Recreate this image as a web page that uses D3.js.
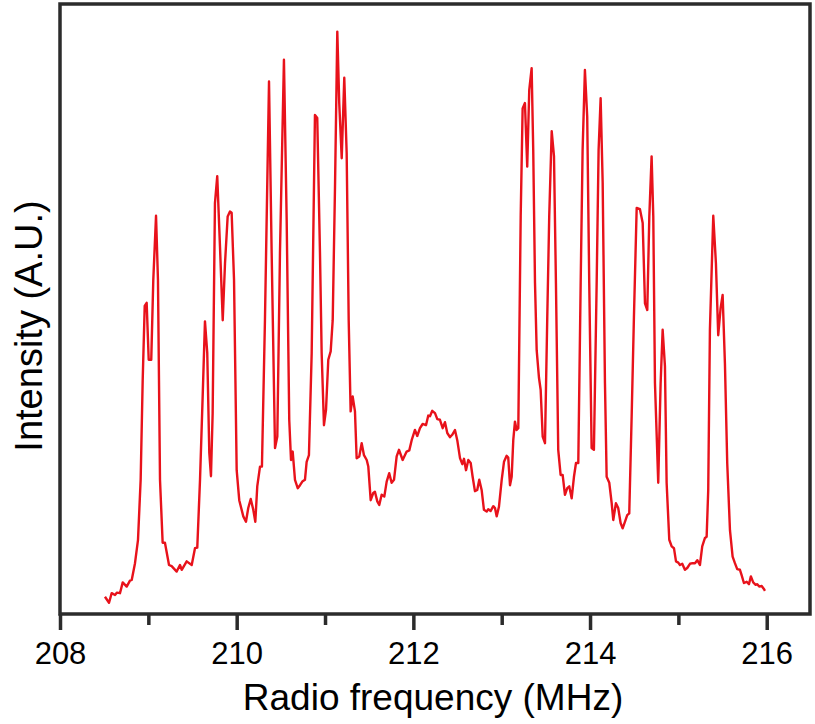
<!DOCTYPE html>
<html>
<head>
<meta charset="utf-8">
<script src="https://cdn.jsdelivr.net/npm/d3@7"></script>
<style>
  body { margin: 0; background: #fff; }
  svg text { font-family: "Liberation Sans", Arial, Helvetica, sans-serif; fill: #000; }
</style>
</head>
<body>
<div id="chart"></div>
<script>
/* global d3 */

// spectrum: frequency (MHz) and intensity (A.U.)
const freq = [
  208.509, 208.555, 208.585, 208.623, 208.645, 208.679, 208.710, 208.755, 208.792, 208.812,
  208.849, 208.883, 208.913, 208.936, 208.959, 208.981, 209.004, 209.033, 209.056, 209.087,
  209.109, 209.132, 209.162, 209.188, 209.234, 209.264, 209.321, 209.358, 209.378, 209.434,
  209.491, 209.528, 209.554, 209.585, 209.615, 209.641, 209.667, 209.690, 209.709, 209.728,
  209.754, 209.780, 209.811, 209.842, 209.868, 209.898, 209.924, 209.943, 209.970, 210.000,
  210.029, 210.075, 210.105, 210.131, 210.159, 210.188, 210.211, 210.233, 210.264, 210.286,
  210.320, 210.366, 210.396, 210.434, 210.460, 210.490, 210.535, 210.566, 210.595, 210.615,
  210.634, 210.660, 210.691, 210.717, 210.743, 210.773, 210.792, 210.818, 210.849, 210.886,
  210.912, 210.943, 210.962, 210.988, 211.011, 211.037, 211.064, 211.087, 211.113, 211.139,
  211.161, 211.189, 211.218, 211.245, 211.268, 211.290, 211.313, 211.339, 211.358, 211.388,
  211.415, 211.441, 211.472, 211.490, 211.517, 211.546, 211.565, 211.592, 211.614, 211.641,
  211.671, 211.698, 211.727, 211.754, 211.781, 211.811, 211.837, 211.879, 211.924, 211.954,
  211.981, 212.018, 212.044, 212.075, 212.105, 212.143, 212.169, 212.188, 212.214, 212.245,
  212.271, 212.301, 212.332, 212.358, 212.384, 212.414, 212.440, 212.471, 212.497, 212.528,
  212.554, 212.573, 212.596, 212.622, 212.649, 212.671, 212.697, 212.723, 212.746, 212.773,
  212.799, 212.830, 212.848, 212.875, 212.905, 212.924, 212.943, 212.969, 213.000, 213.026,
  213.056, 213.074, 213.094, 213.113, 213.131, 213.150, 213.169, 213.188, 213.215, 213.237,
  213.263, 213.289, 213.312, 213.339, 213.357, 213.377, 213.396, 213.422, 213.441, 213.464,
  213.490, 213.516, 213.538, 213.566, 213.592, 213.614, 213.640, 213.667, 213.690, 213.716,
  213.742, 213.765, 213.792, 213.818, 213.841, 213.867, 213.894, 213.916, 213.942, 213.968,
  213.991, 214.018, 214.044, 214.075, 214.097, 214.120, 214.143, 214.169, 214.188, 214.218,
  214.245, 214.263, 214.293, 214.319, 214.346, 214.369, 214.395, 214.421, 214.444, 214.471,
  214.497, 214.528, 214.565, 214.596, 214.622, 214.648, 214.671, 214.697, 214.716, 214.735,
  214.772, 214.799, 214.822, 214.848, 214.867, 214.897, 214.924, 214.950, 214.973, 214.999,
  215.018, 215.044, 215.074, 215.100, 215.131, 215.161, 215.188, 215.214, 215.244, 215.270,
  215.301, 215.320, 215.338, 215.357, 215.395, 215.425, 215.451, 215.478, 215.501, 215.527,
  215.553, 215.584, 215.614, 215.640, 215.666, 215.697, 215.716, 215.742, 215.773, 215.799,
  215.821, 215.847, 215.875, 215.893, 215.915, 215.943, 215.968, 215.980
]
const intensity = [
  2.7, 1.7, 3.3, 3.0, 3.4, 3.3, 5.1, 4.4, 5.4, 5.5,
  8.3, 12.2, 22.2, 38.8, 51.2, 51.7, 42.2, 42.2, 55.5, 66.2,
  55.5, 22.2, 11.7, 11.7, 8.0, 7.8, 6.9, 8.0, 7.2, 8.6,
  8.0, 10.8, 10.9, 22.2, 36.1, 48.6, 43.3, 26.7, 22.8, 33.3,
  68.3, 72.8, 61.1, 48.8, 58.3, 66.1, 66.9, 66.7, 55.5, 23.8,
  18.8, 16.1, 15.2, 17.5, 19.0, 17.2, 15.2, 21.1, 24.4, 24.4,
  48.8, 88.6, 60.0, 27.5, 29.4, 60.0, 92.2, 65.5, 32.2, 25.5,
  26.9, 22.2, 20.8, 21.3, 21.9, 22.2, 25.2, 26.3, 43.3, 83.0,
  82.5, 60.0, 43.3, 31.3, 33.8, 42.2, 43.6, 48.8, 71.0, 96.9,
  85.0, 75.8, 89.2, 76.7, 48.8, 33.6, 36.1, 33.6, 25.8, 26.1,
  28.3, 26.3, 25.5, 24.4, 18.8, 20.0, 20.2, 18.6, 18.0, 19.7,
  19.4, 21.9, 23.3, 21.7, 22.2, 26.1, 27.2, 25.5, 26.9, 27.1,
  28.8, 30.5, 29.5, 30.8, 31.5, 31.3, 32.9, 32.8, 33.7, 33.3,
  32.3, 32.2, 30.8, 31.8, 30.0, 29.3, 29.7, 30.5, 28.8, 25.8,
  24.8, 25.7, 23.8, 25.5, 25.0, 22.7, 20.3, 20.5, 22.2, 20.5,
  17.2, 16.9, 17.3, 17.0, 17.8, 17.5, 16.1, 17.7, 22.2, 25.2,
  26.2, 25.9, 21.3, 22.7, 28.8, 31.9, 30.5, 30.8, 66.1, 84.1,
  85.0, 74.4, 87.2, 90.8, 77.2, 55.0, 43.8, 39.2, 37.2, 29.4,
  28.3, 49.4, 66.1, 80.3, 76.1, 55.0, 27.2, 23.0, 23.0, 19.7,
  20.8, 21.1, 19.1, 22.7, 25.0, 25.0, 55.0, 77.2, 90.5, 82.7,
  55.0, 27.5, 27.2, 55.0, 77.2, 85.8, 71.7, 38.3, 22.7, 21.7,
  18.3, 15.5, 18.3, 17.5, 15.0, 14.1, 15.2, 16.3, 16.6, 32.7,
  49.4, 67.5, 67.3, 65.0, 51.6, 50.5, 66.1, 76.1, 66.1, 38.3,
  21.7, 38.3, 47.2, 41.1, 21.7, 12.2, 11.1, 10.8, 8.6, 8.4,
  8.0, 8.2, 7.2, 7.5, 8.2, 8.3, 8.3, 8.8, 8.0, 11.1,
  12.5, 12.7, 20.5, 47.2, 66.2, 58.3, 46.3, 50.8, 53.0, 41.6,
  25.0, 13.8, 9.4, 8.3, 7.3, 7.2, 6.3, 5.0, 5.2, 4.8,
  6.1, 5.1, 4.7, 4.8, 4.4, 4.5, 4.0, 3.7
]
const majorTicks = [208, 210, 212, 214, 216]
const minorTicks = [209, 211, 213, 215]

// canvas
const width = 815,
  height = 724
const plotLeft = 60, plotRight = 810, plotTop = 4, plotBottom = 614

let svg = d3.select('#chart')
  .append('svg')
  .attr('width', width)
  .attr('height', height)

const xScale = d3.scaleLinear()
  .domain([208, 216.49])
  .range([plotLeft, plotRight])

const yScale = d3.scaleLinear()
  .domain([-0.17, 101.5])
  .range([plotBottom, plotTop])

// the spectrum
const points = freq.map((f, i) => [f, intensity[i]])

svg.append('path')
  .datum(points)
  .attr('fill', 'none')
  .attr('stroke', '#e8121b')
  .attr('stroke-width', 2.4)
  .attr('stroke-linejoin', 'round')
  .attr('d', d3.line()
    .x(d => xScale(d[0]))
    .y(d => yScale(d[1])))

// minor ticks
svg.append('g')
  .attr('transform', `translate(0, ${plotBottom})`)
  .call(d3.axisBottom(xScale).tickValues(minorTicks).tickSize(11).tickFormat(''))
  .call(g => g.select('.domain').remove())
  .call(g => g.selectAll('line').attr('stroke', '#2b2b2b').attr('stroke-width', 3.5))

// major ticks with labels
svg.append('g')
  .attr('transform', `translate(0, ${plotBottom})`)
  .call(d3.axisBottom(xScale).tickValues(majorTicks).tickSize(16).tickPadding(12).tickFormat(d3.format('d')))
  .call(g => g.select('.domain').remove())
  .call(g => g.selectAll('line').attr('stroke', '#2b2b2b').attr('stroke-width', 3.5))
  .call(g => g.selectAll('text').attr('font-size', 31).attr('fill', '#000')
    .style('font-family', '"Liberation Sans", Arial, sans-serif'))

// frame
svg.append('rect')
  .attr('x', plotLeft)
  .attr('y', plotTop)
  .attr('width', plotRight - plotLeft)
  .attr('height', plotBottom - plotTop)
  .attr('fill', 'none')
  .attr('stroke', '#2b2b2b')
  .attr('stroke-width', 3.5)

// axis titles
svg.append('text')
  .attr('x', 433)
  .attr('y', 710)
  .attr('text-anchor', 'middle')
  .attr('font-size', 37)
  .text('Radio frequency (MHz)')

svg.append('text')
  .attr('transform', `translate(42, 326) rotate(-90)`)
  .attr('text-anchor', 'middle')
  .attr('font-size', 38)
  .text('Intensity (A.U.)')
</script>
</body>
</html>
